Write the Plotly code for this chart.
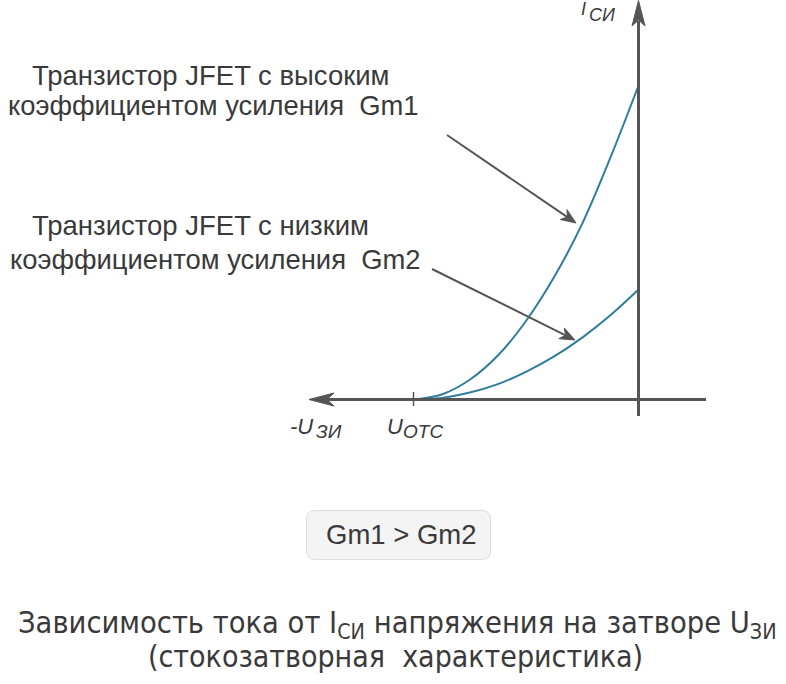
import math
import plotly.graph_objects as go

# ---------------- data ----------------
u_gs = [-4.0, -3.5, -3.0, -2.5, -2.0, -1.5, -1.0, -0.5, 0.0]          # gate-source voltage, V
i_d_gm1 = [0.0, 0.16, 0.63, 1.40, 2.50, 3.90, 5.60, 7.70, 10.0]        # drain current, high Gm1
i_d_gm2 = [0.0, 0.05, 0.22, 0.49, 0.88, 1.37, 1.97, 2.68, 3.50]        # drain current, low Gm2
u_otc = -4.0                                                            # cutoff voltage

label_gm1 = ["Транзистор JFET с высоким", "коэффициентом усиления  Gm1"]
label_gm2 = ["Транзистор JFET с низким", "коэффициентом усиления  Gm2"]
compare_text = "Gm1 > Gm2"
title_lines = ["Зависимость тока от I<sub>СИ</sub> напряжения на затворе U<sub>ЗИ</sub>",
               "(стокозатворная  характеристика)"]

# ---------------- geometry ----------------
W, H = 786, 684
X0, XS = 638.5, 56.25     # pixel of U=0, px per volt
Y0, YS = 399.5, 31.4      # pixel of I=0, px per mA


def dx(p):
    return (p - X0) / XS


def dy(p):
    return (Y0 - p) / YS


def px(p):
    return p / W


def py(p):
    return 1 - p / H


CURVE = "#2e7d9c"
AXIS = "#555555"
TEXT = "#3a3a3a"
FONT = "Liberation Sans, Arial, sans-serif"
NARROW = "Liberation Sans Narrow, Arial Narrow, DejaVu Sans Condensed, Roboto, sans-serif"

fig = go.Figure()
fig.add_trace(go.Scatter(x=u_gs, y=i_d_gm1, mode="lines", line=dict(color=CURVE, width=2, shape="spline"),
                         hoverinfo="skip"))
fig.add_trace(go.Scatter(x=u_gs, y=i_d_gm2, mode="lines", line=dict(color=CURVE, width=2, shape="spline"),
                         hoverinfo="skip"))

shapes = []
# axes
shapes.append(dict(type="line", xref="x", yref="y", x0=dx(327), x1=dx(706), y0=0, y1=0,
                   line=dict(color=AXIS, width=3)))
shapes.append(dict(type="line", xref="x", yref="y", x0=0, x1=0, y0=dy(21), y1=dy(416),
                   line=dict(color=AXIS, width=3)))
# axis arrowheads
shapes.append(dict(type="path", xref="x", yref="y",
                   path=f"M{dx(309)},{dy(399.5)} L{dx(334)},{dy(393)} L{dx(327)},{dy(399.5)} L{dx(334)},{dy(406)} Z",
                   fillcolor=AXIS, line=dict(color=AXIS, width=1)))
shapes.append(dict(type="path", xref="x", yref="y",
                   path=f"M{dx(638.5)},{dy(0.5)} L{dx(632)},{dy(26)} L{dx(638.5)},{dy(20)} L{dx(645)},{dy(26)} Z",
                   fillcolor=AXIS, line=dict(color=AXIS, width=1)))
# cutoff tick
shapes.append(dict(type="line", xref="x", yref="y", x0=u_otc, x1=u_otc, y0=dy(392), y1=dy(406),
                   line=dict(color=AXIS, width=1.5)))

# pointer arrows (line + notched head)
for (tx, ty, hx, hy) in [(447, 135, 576, 223), (432, 269, 575, 340)]:
    vx, vy = hx - tx, hy - ty
    n = math.hypot(vx, vy)
    ux, uy = vx / n, vy / n
    nx, ny = -uy, ux
    L, w, notch = 15, 6, 4.5
    bx, by = hx - L * ux, hy - L * uy
    kx, ky = hx - (L - notch) * ux, hy - (L - notch) * uy
    shapes.append(dict(type="line", xref="x", yref="y", x0=dx(tx), y0=dy(ty), x1=dx(kx), y1=dy(ky),
                       line=dict(color=AXIS, width=2)))
    shapes.append(dict(type="path", xref="x", yref="y",
                       path=(f"M{dx(hx)},{dy(hy)} L{dx(bx + w * nx)},{dy(by + w * ny)} "
                             f"L{dx(kx)},{dy(ky)} L{dx(bx - w * nx)},{dy(by - w * ny)} Z"),
                       fillcolor=AXIS, line=dict(color=AXIS, width=1)))

# rounded box
bx0, bx1, by0, by1, r = 306.5, 490.5, 510.5, 559.5, 9
box_path = (f"M{px(bx0 + r)},{py(by0)} L{px(bx1 - r)},{py(by0)} Q{px(bx1)},{py(by0)} {px(bx1)},{py(by0 + r)} "
            f"L{px(bx1)},{py(by1 - r)} Q{px(bx1)},{py(by1)} {px(bx1 - r)},{py(by1)} "
            f"L{px(bx0 + r)},{py(by1)} Q{px(bx0)},{py(by1)} {px(bx0)},{py(by1 - r)} "
            f"L{px(bx0)},{py(by0 + r)} Q{px(bx0)},{py(by0)} {px(bx0 + r)},{py(by0)} Z")
shapes.append(dict(type="path", xref="paper", yref="paper", path=box_path,
                   fillcolor="#f4f4f4", line=dict(color="#dddddd", width=1)))

ann = []


def text(t, x, y, size, xanchor="left", italic=False, family=FONT):
    ann.append(dict(text=f"<i>{t}</i>" if italic else t, x=px(x), y=py(y), xref="paper", yref="paper",
                    xanchor=xanchor, yanchor="middle", showarrow=False,
                    font=dict(family=family, size=size, color=TEXT)))


# text blocks
text(label_gm1[0], 30, 75.5, 27.5)
text(label_gm1[1], 6, 105, 27.4)
text(label_gm2[0], 30, 225, 27.5)
text(label_gm2[1], 8, 259, 27.4)

# axis labels
text("-U", 288, 426, 22, italic=True)
text("ЗИ", 314, 431, 19, italic=True)
text("U", 385, 426, 22, italic=True)
text("ОТС", 401, 431, 19, italic=True)
text("I", 579, 8.5, 18, italic=True)
text("СИ", 587, 15, 18, italic=True)

# comparison box
text(compare_text, 401.5, 534, 27.5, xanchor="center")

# title
text(title_lines[0], 397, 624, 30.5, xanchor="center", family=NARROW)
text(title_lines[1], 396, 656, 30, xanchor="center", family=NARROW)

fig.update_layout(
    width=W, height=H, autosize=False,
    margin=dict(l=0, r=0, t=0, b=0, pad=0),
    paper_bgcolor="white", plot_bgcolor="white",
    showlegend=False,
    xaxis=dict(range=[dx(0), dx(W)], visible=False, fixedrange=True),
    yaxis=dict(range=[dy(H), dy(0)], visible=False, fixedrange=True),
    shapes=shapes, annotations=ann,
)

fig.write_html("out.html", config={"displayModeBar": False},
               post_script="document.body.style.margin='0';document.body.style.overflow='hidden';")
